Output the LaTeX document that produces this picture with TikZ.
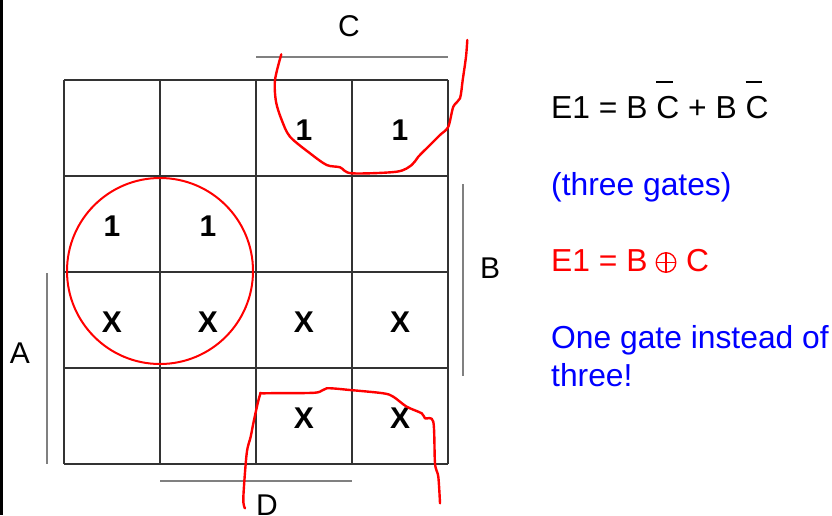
\documentclass[tikz,border=0pt]{standalone}
\usepackage{fontspec}
\setmainfont{Liberation Sans}
\definecolor{gridc}{HTML}{333333}
\definecolor{barc}{HTML}{808080}
\definecolor{txtblue}{HTML}{0000FF}
\definecolor{txtred}{HTML}{FF0000}
\newcommand\ovC{\rlap{\raisebox{1.12em}{\rule{0.53em}{0.05em}}}C}
\begin{document}
\begin{tikzpicture}[x=1pt,y=-1pt,
 gridline/.style={draw=gridc,line width=1.2pt},
 bar/.style={draw=barc,line width=1.5pt},
 lbl/.style={inner sep=0,font=\fontsize{30}{36}\selectfont},
 cell/.style={inner sep=0,font=\fontsize{30}{36}\selectfont\bfseries},
 txt/.style={inner sep=0,anchor=base west,font=\fontsize{31.8}{38}\selectfont},
 loop/.style={draw=red,line width=2.4pt,line join=round,line cap=round},
 xorsym/.style={draw=txtred,line width=1.3pt}]
\useasboundingbox (0,0) rectangle (832,515);
\fill[black] (0,0) rectangle (3,515);
% grid
\foreach \i in {0,...,4} {
  \draw[gridline] (64+96*\i,80) -- (64+96*\i,464);
  \draw[gridline] (64,80+96*\i) -- (448,80+96*\i);
}
% cell entries
\node[cell] (c02) at (304,130) {1};
\node[cell] (c03) at (400,130) {1};
\node[cell] (c10) at (112,226) {1};
\node[cell] (c11) at (208,226) {1};
\node[cell] (c20) at (112,322) {X};
\node[cell] (c21) at (208,322) {X};
\node[cell] (c22) at (304,322) {X};
\node[cell] (c23) at (400,322) {X};
\node[cell] (c32) at (304,418) {X};
\node[cell] (c33) at (400,418) {X};
% variable bars and labels
\draw[bar] (256,57) -- (448,57);
\node[lbl] (lC) at (349,26) {C};
\draw[bar] (463,184) -- (463,376);
\node[lbl] (lB) at (490,268) {B};
\draw[bar] (47,273) -- (47,464);
\node[lbl] (lA) at (20,353) {A};
\draw[bar] (160,481) -- (352,481);
\node[lbl] (lD) at (267,505) {D};
% red groupings
\draw[loop,line width=2pt] (160,271) circle (93);
\draw[loop] plot[smooth,tension=0.5] coordinates {(281.3,54.3) (275,80) (276,101.7) (281.7,120) (290,136.7) (310,153.3) (326.7,165) (340,167.3) (351.7,173.3) (396.7,171.7) (411.7,165) (418.3,156.7) (430,145) (440,135) (448.3,126.7) (453.3,106.7) (460,98.3) (462.7,80) (466,56.7) (467.3,40)};
\draw[loop] plot[smooth,tension=0.5] coordinates {(245,508.3) (243.3,498.3) (246.7,453.3) (250.7,436.7) (254,420) (260,395) (265,393.3) (315,392.7) (326.7,388.3) (350,390) (383.3,393.3) (393.3,396.7) (406.7,406.7) (421.7,413.3) (425,418.3) (433.3,421.7) (435,463.3) (438.3,476.7) (440,503.3)};
% right-hand text
\node[txt] (t1) at (551,118.3) {E1 = B \ovC{} + B \ovC};
\node[txt,text=txtblue] (t2) at (551,195) {(three gates)};
\node[txt,text=txtred] (t3a) at (551,271.7) {E1 = B};
\coordinate (xo) at (666,262.5);
\draw[xorsym] (xo) circle (9.8);
\draw[xorsym] ([xshift=-9.8pt]xo) -- ([xshift=9.8pt]xo);
\draw[xorsym] ([yshift=-9.8pt]xo) -- ([yshift=9.8pt]xo);
\node[txt,text=txtred] (t3b) at (686,271.7) {C};
\node[txt,text=txtblue] (t4) at (551,348.3) {One gate instead of};
\node[txt,text=txtblue] (t5) at (551,386.7) {three!};
\end{tikzpicture}
\end{document}
